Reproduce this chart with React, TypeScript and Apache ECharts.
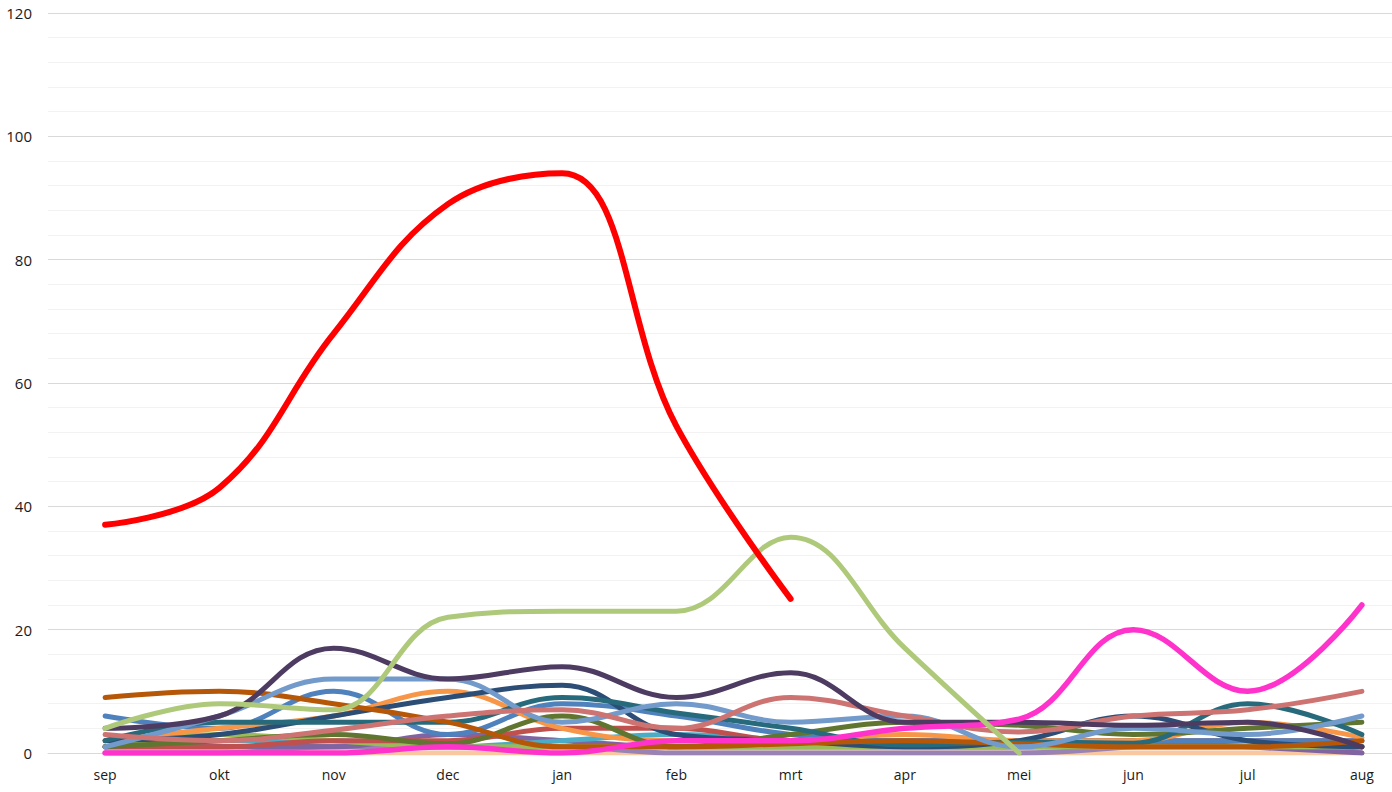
import React, { useEffect, useRef } from "react";
import * as echarts from "echarts";

const months = ["sep", "okt", "nov", "dec", "jan", "feb", "mrt", "apr", "mei", "jun", "jul", "aug"];

const peach = [0, 0, 0, 0, 0, 0, 0, 0, 0, 0, 0, 0];
const darkRed = [1, 1, 1, 1, 1, 1, 1, 1, 1, 1, 1, 1];
const lightPurple = [0, 0, 1, 1, 1, 0, 0, 0, 0, 1, 2, 0];
const purple = [1, 1, 1, 3, 2, 1, 1, 1, 1, 2, 1, 0];
const aqua = [1, 2, 2, 1, 2, 3, 2, 1, 1, 1, 1, 1];
const green = [1, 3, 2, 1, 1, 1, 1, 1, 1, 1, 1, 1];
const red = [1, 1, 2, 2, 4, 4, 2, 2, 2, 2, 2, 2];
const blue = [6, 4, 10, 3, 8, 6, 3, 2, 2, 2, 2, 2];
const orange = [2, 4, 6, 10, 4, 2, 2, 3, 2, 2, 5, 2.5];
const darkBlue = [2, 3, 6, 9, 11, 3, 2, 1, 2, 6, 2, 1];
const darkGreen = [1, 2, 3, 1.5, 6, 1, 3, 5, 4.5, 3, 4, 5];
const teal = [2, 5, 5, 5, 9, 6.5, 4, 1.3, 1.8, 1.6, 8, 3];
const darkOrange = [9, 10, 8, 5, 1, 1, 1.5, 2, 1.5, 1, 1, 2];
const lightBlue = [1, 6, 12, 12, 5, 8, 5, 6, 1, 4, 3, 6];
const lightRed = [3, 2, 3.7, 6, 7, 4, 9, 6, 3.4, 6, 7, 10];
const darkPurple = [4, 6, 17, 12, 14, 9, 13, 5, 5, 4.5, 5, 1];
const magenta = [0, 0, 0, 1, 0, 2, 2, 4, 5.5, 20, 10, 24];
const lightGreen = [4, 8, 7, 22, 23, 23, 35, 17, 0, null, null, null];
const brightRed = [37, 43, 68, 89, 94, 53, 25, null, null, null, null, null];

const seriesDefs: [string, (number | null)[], string, number][] = [
  ["s1", peach, "#FAC8A0", 5],
  ["s2", darkRed, "#772C2A", 5],
  ["s3", lightPurple, "#9983B5", 5],
  ["s4", purple, "#8064A2", 5],
  ["s5", aqua, "#4BACC6", 5],
  ["s6", green, "#9BBB59", 5],
  ["s7", red, "#C0504D", 5],
  ["s8", blue, "#4F81BD", 5],
  ["s9", orange, "#F79646", 5],
  ["s10", darkBlue, "#2C4D75", 5],
  ["s11", darkGreen, "#5F7530", 5],
  ["s12", teal, "#276A7C", 5],
  ["s13", darkOrange, "#B65708", 5],
  ["s14", lightBlue, "#729ACA", 5],
  ["s15", lightRed, "#CD7371", 5],
  ["s16", darkPurple, "#4D3B62", 5],
  ["s17", magenta, "#FF33CC", 5.5],
  ["s18", lightGreen, "#AFC97A", 5],
  ["s19", brightRed, "#FF0000", 6],
];

export default function App() {
  const ref = useRef<HTMLDivElement>(null);
  useEffect(() => {
    if (!ref.current) return;
    const chart = echarts.init(ref.current, undefined, { renderer: "svg" });
    chart.setOption({
      animation: false,
      grid: { left: 48, right: 0, top: 13, bottom: 39, containLabel: false },
      xAxis: {
        type: "category",
        data: months,
        boundaryGap: true,
        axisLine: { show: true, lineStyle: { color: "#D9D9D9", width: 1 } },
        axisTick: { show: false },
        axisLabel: { color: "#1a1a1a", fontFamily: "Open Sans", fontSize: 14, margin: 14 },
        splitLine: { show: false },
      },
      yAxis: {
        type: "value",
        min: 0,
        max: 120,
        interval: 20,
        axisLine: { show: false },
        axisTick: { show: false },
        axisLabel: { color: "#1a1a1a", fontFamily: "Open Sans", fontSize: 15, margin: 16 },
        splitLine: { show: true, lineStyle: { color: "#D9D9D9", width: 1 } },
        minorTick: { show: false, splitNumber: 5 },
        minorSplitLine: { show: true, lineStyle: { color: "#F2F2F2", width: 1 } },
      },
      series: seriesDefs.map(([name, data, color, w]) => ({
        name,
        type: "line",
        data,
        smooth: 0.4,
        showSymbol: false,
        symbol: "none",
        connectNulls: false,
        lineStyle: { color, width: w, cap: "round", join: "round" },
        itemStyle: { color },
      })),
    });
    return () => chart.dispose();
  }, []);
  return (
    <div style={{ position: "fixed", left: 0, top: 0, width: 1392, height: 792, overflow: "hidden", background: "#fff" }}>
      <div ref={ref} style={{ width: 1419, height: 792 }} />
    </div>
  );
}
